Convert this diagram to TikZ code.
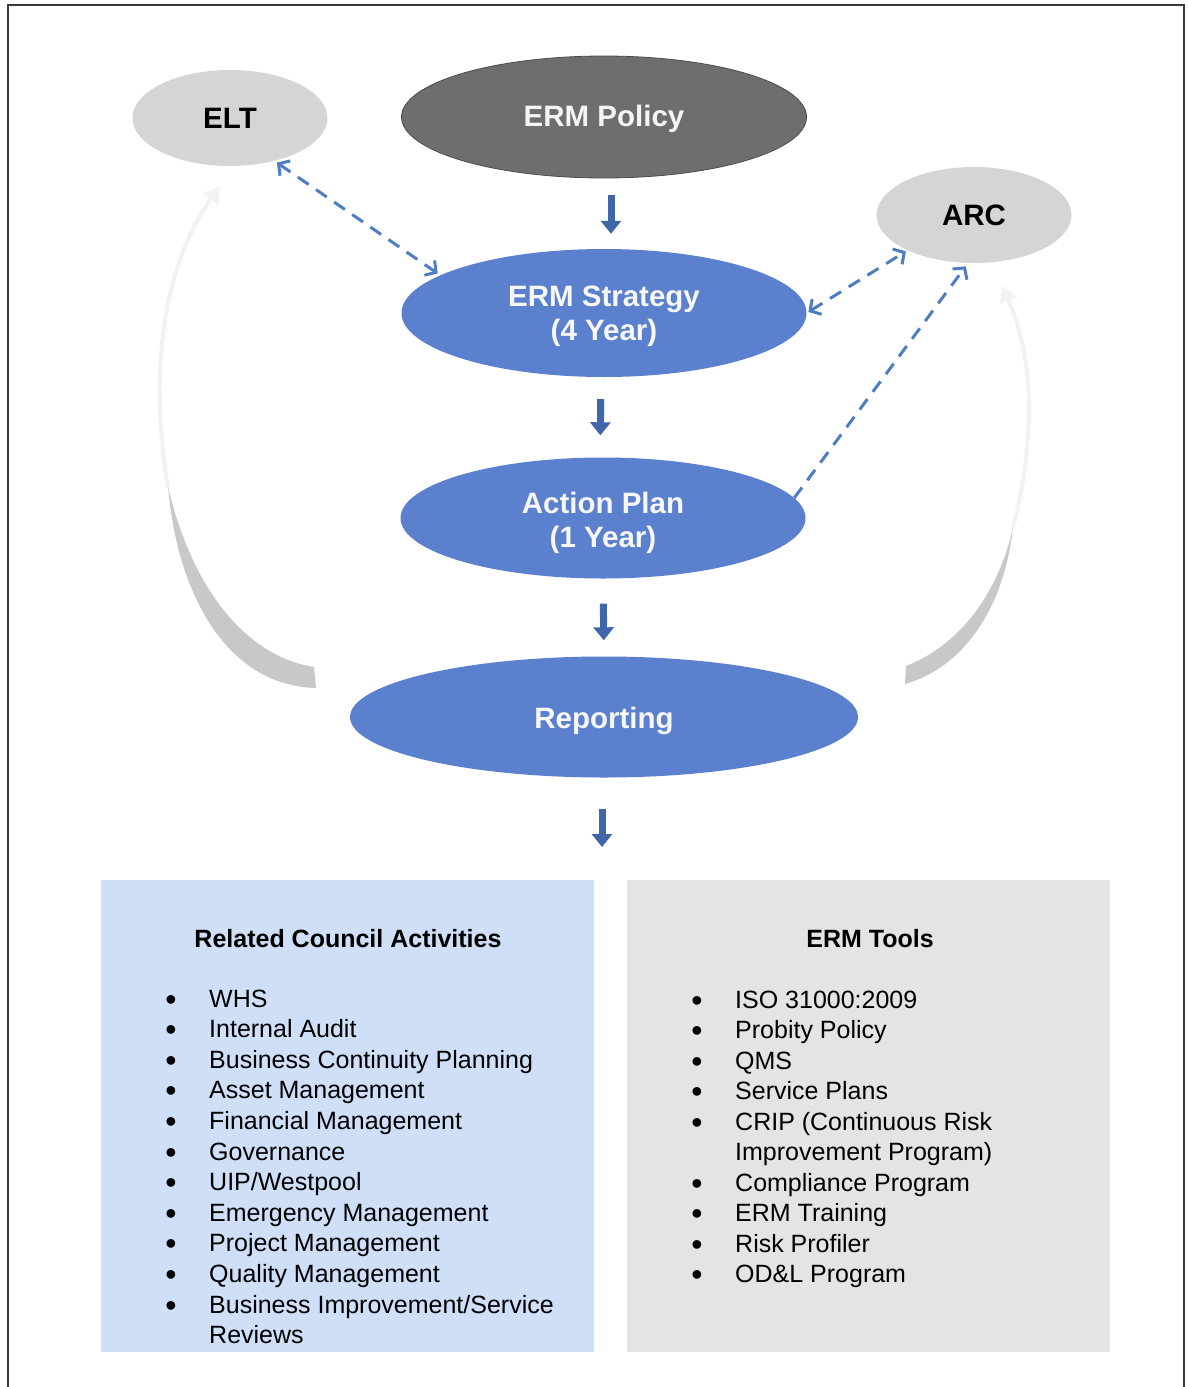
\documentclass[tikz,border=0pt]{standalone}
\usepackage{fontspec}
\setmainfont{Liberation Sans}
\usetikzlibrary{arrows.meta,shapes.geometric}

\definecolor{bluefill}{HTML}{5A80CE}
\definecolor{darkarrow}{HTML}{3E66A8}
\definecolor{dashblue}{HTML}{4F7DC4}
\definecolor{greyfill}{HTML}{D5D5D5}
\definecolor{policyfill}{HTML}{6D6F6F}
\definecolor{policyline}{HTML}{4A4A4A}
\definecolor{lightbluebox}{HTML}{CEDFF7}
\definecolor{greybox}{HTML}{E4E4E4}
\definecolor{crescent}{HTML}{C8C8C8}
\definecolor{fadegrey}{HTML}{F2F2F2}
\definecolor{framecol}{HTML}{3A3A3A}

\newcommand\downtext[2][10pt]{\raisebox{0pt}[\dimexpr\height+#1\relax][\depth]{\begin{tabular}{@{}c@{}}#2\end{tabular}}}

\begin{document}
\begin{tikzpicture}[x=1pt,y=-1pt,
  ell/.style={ellipse, inner sep=0pt, font=\bfseries\fontsize{29.5}{34}\selectfont},
  bluebubble/.style={ell, fill=bluefill, text=white!94!gray, minimum width=405pt, minimum height=122pt},
  greybubble/.style={ell, fill=greyfill, text=black, minimum width=195pt, minimum height=96pt},
  policybubble/.style={ell, fill=policyfill, draw=policyline, line width=0.8pt, text=white!92!gray, minimum width=405pt, minimum height=122pt},
  blockarrow/.style={draw=darkarrow, line width=7pt, -{Triangle[width=20pt,length=13pt]}},
  dasharrow/.style={draw=dashblue, line width=3pt, dash pattern=on 13pt off 9pt},
  barb/.tip={Straight Barb[length=8pt,width=18pt,line width=3pt]},
  listbox/.style={inner sep=0pt, anchor=north west, minimum height=472pt},
  listtext/.style={inner sep=0pt, anchor=base west, font=\fontsize{25}{30}\selectfont},
  listhead/.style={inner sep=0pt, anchor=base, font=\bfseries\fontsize{25}{30}\selectfont},
  bullet/.style={inner sep=0pt, anchor=base, font=\fontsize{32}{30}\selectfont}
]
\useasboundingbox (0,0) rectangle (1187,1387);

% frame
\draw[framecol, line width=2pt] (8,1387) -- (8,5) -- (1184,5) -- (1184,1387);

% faint curved return arrows
\fill[crescent] (168,487) .. controls (190,580) and (240,655) .. (314,667) -- (316,688) .. controls (230,686) and (178,600) .. (168,487) -- cycle;
\draw[fadegrey, line width=4pt, -{Triangle[width=18pt,length=16pt]}] (168,488) .. controls (150,380) and (160,270) .. (220,186);
\fill[crescent] (1013,527) .. controls (1003,575) and (972,640) .. (906,666) -- (905,684) .. controls (962,668) and (1004,610) .. (1013,527) -- cycle;
\draw[fadegrey, line width=4pt, -{Triangle[width=18pt,length=16pt]}] (1013,528) .. controls (1035,440) and (1035,360) .. (1002,286);

% nodes
\node[greybubble] (elt) at (230,118) {ELT};
\node[policybubble] (policy) at (604,117) {\downtext[6pt]{ERM Policy}};
\node[greybubble] (arc) at (974,215) {ARC};
\node[bluebubble, minimum height=128pt] (strategy) at (604,313) {\downtext[8pt]{ERM Strategy\\(4 Year)}};
\node[bluebubble, minimum height=121pt] (action) at (603,518) {\downtext[12pt]{Action Plan\\(1 Year)}};
\node[bluebubble, minimum width=508pt, minimum height=121pt] (reporting) at (604,717) {\downtext[10pt]{Reporting}};
\coordinate (boxtop) at (602,880);

% block arrows
\draw[blockarrow, shorten <=17pt, shorten >=15pt] ([xshift=7pt]policy.south) -- ([xshift=7pt]strategy.north);
\draw[blockarrow, shorten <=22pt, shorten >=22pt] ([xshift=-3pt]strategy.south) -- ([xshift=-3pt]action.north);
\draw[blockarrow, shorten <=25pt, shorten >=16pt] (action.south) -- (reporting.north);
\draw[blockarrow, shorten <=31pt, shorten >=33pt] ([xshift=-2pt]reporting.south) -- (boxtop);

% dashed connectors
\draw[dasharrow, {barb}-{barb}, shorten <=3pt, shorten >=3pt] (elt.-44) -- (strategy.167);
\draw[dasharrow, {barb}-{barb}, shorten <=2pt, shorten >=2pt] (strategy.0) -- (arc.208);
\draw[dasharrow, -{barb}, shorten >=4pt] (action.6) -- (arc.263);

% lower boxes
\node[listbox, fill=lightbluebox, minimum width=493pt] (leftbox) at (101,880) {};
\node[listbox, fill=greybox, minimum width=483pt] (rightbox) at (627,880) {};

\node[listhead] (lefthead) at (348,947) {Related Council Activities};
\node[listhead] (righthead) at (870,947) {ERM Tools};

\foreach \t [count=\i from 0] in {WHS,Internal Audit,Business Continuity Planning,Asset Management,Financial Management,Governance,{UIP/Westpool},Emergency Management,Project Management,Quality Management,{Business Improvement/Service},Reviews}
  \node[listtext] (la\i) at (209,{1007+30.6*\i}) {\t};
\foreach \i in {0,...,10}
  \node[bullet] (lb\i) at (171,{1010+30.6*\i}) {•};

\foreach \t [count=\i from 0] in {ISO 31000:2009,Probity Policy,QMS,Service Plans,CRIP (Continuous Risk,Improvement Program),Compliance Program,ERM Training,Risk Profiler,OD\&L Program}
  \node[listtext] (ra\i) at (735,{1008+30.5*\i}) {\t};
\foreach \i in {0,1,2,3,4,6,7,8,9}
  \node[bullet] (rb\i) at (697,{1011+30.5*\i}) {•};
\end{tikzpicture}
\end{document}
